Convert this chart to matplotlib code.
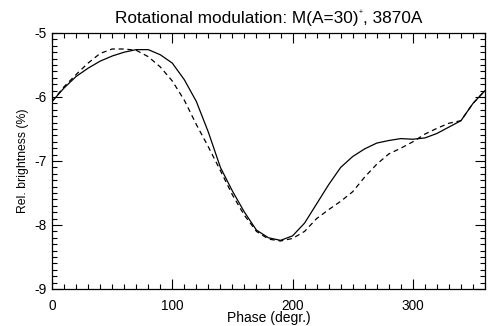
import matplotlib
matplotlib.use("Agg")
import matplotlib.pyplot as plt
from matplotlib.ticker import MultipleLocator, FixedLocator

plt.rcParams['font.family'] = ['Liberation Sans', 'DejaVu Sans']

phase = [0, 10, 20, 30, 40, 50, 60, 70, 80, 90, 100, 110, 120, 130, 140, 150, 160, 170, 180,
         190, 200, 210, 220, 230, 240, 250, 260, 270, 280, 290, 300, 310, 320, 330, 340, 350, 360]

solid = [-6.07, -5.86, -5.68, -5.55, -5.44, -5.36, -5.30, -5.26, -5.26, -5.34, -5.47, -5.73,
         -6.07, -6.55, -7.10, -7.47, -7.80, -8.08, -8.20, -8.24, -8.17, -7.97, -7.67, -7.37,
         -7.10, -6.93, -6.81, -6.72, -6.68, -6.65, -6.66, -6.64, -6.57, -6.47, -6.37, -6.10, -5.90]

dashed = [-6.07, -5.84, -5.65, -5.47, -5.32, -5.25, -5.25, -5.27, -5.37, -5.53, -5.75, -6.05,
          -6.43, -6.78, -7.15, -7.53, -7.85, -8.10, -8.22, -8.25, -8.21, -8.10, -7.90, -7.76,
          -7.63, -7.48, -7.25, -7.05, -6.89, -6.80, -6.70, -6.58, -6.49, -6.41, -6.37, -6.10, -5.90]

yticks = [-9, -8, -7, -6, -5]
ytick_labels = ['-9', '-8', '-7', '-6', '-5']

fig = plt.figure(figsize=(4.92, 3.26), dpi=100)
ax = fig.add_axes([0.1057, 0.1135, 0.8801, 0.7853])
ax.plot(phase, solid, color='black', lw=0.9)
ax.plot(phase, dashed, color='black', lw=0.9, dashes=(4, 3))

ax.set_xlim(0, 360)
ax.set_ylim(-9, -5)
ax.xaxis.set_major_locator(MultipleLocator(100))
ax.xaxis.set_minor_locator(MultipleLocator(10))
ax.yaxis.set_major_locator(FixedLocator(yticks))
ax.yaxis.set_minor_locator(MultipleLocator(0.1))
ax.set_yticklabels(ytick_labels)
ax.tick_params(which='both', direction='in', top=True, right=True, labelsize=9.8, width=0.8)
ax.tick_params(which='major', length=7)
ax.tick_params(which='minor', length=3.5)
ax.tick_params(axis='x', pad=7)
ax.tick_params(axis='y', pad=4)
for s in ax.spines.values():
    s.set_linewidth(0.9)

ax.set_xlabel('Phase (degr.)', fontsize=10, labelpad=-1)
ax.set_ylabel('Rel. brightness (%)', fontsize=8.8, labelpad=4)

# Title in pieces with tiny superscript "+"
fig.canvas.draw()
r = fig.canvas.get_renderer()
ty = 0.929
fs = 12.4
parts = [('Rotational modulation: M(A=30)', fs, 0.0), ('+', 5, 0.028), (', 3870A', fs, 0.0)]
widths = []
for txt, size, _ in parts:
    t = fig.text(0, 0, txt, fontsize=size)
    bb = t.get_window_extent(r)
    widths.append(bb.width / (fig.get_figwidth() * fig.dpi))
    t.remove()
total = sum(widths)
x0 = 0.1057 + 0.8801 / 2 - total / 2
for (txt, size, dy), w in zip(parts, widths):
    fig.text(x0, ty + dy, txt, fontsize=size, ha='left', va='baseline')
    x0 += w

fig.savefig('out.png', dpi=100)
